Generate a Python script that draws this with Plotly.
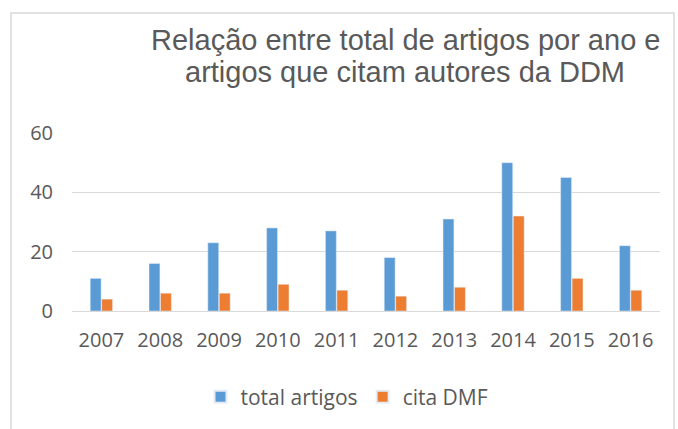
import plotly.graph_objects as go

years = ["2007", "2008", "2009", "2010", "2011", "2012", "2013", "2014", "2015", "2016"]
total_artigos = [11, 16, 23, 28, 27, 18, 31, 50, 45, 22]
cita_dmf = [4, 6, 6, 9, 7, 5, 8, 32, 11, 7]
y_ticks = [0, 20, 40, 60]

title_lines = ["Relação entre total de artigos por ano e", "artigos que citam autores da DDM"]

fig = go.Figure()
fig.add_trace(go.Bar(x=years, y=total_artigos, name="total artigos", marker_color="#5B9BD5"))
fig.add_trace(go.Bar(x=years, y=cita_dmf, name="cita DMF", marker_color="#ED7D31"))

L, R, T, B = 72, 18, 133, 118
W, H = 678, 429
pw, ph = W - L - R, H - T - B

title_font = dict(family="Liberation Sans, Arial", size=29, color="#595959")
annotations = []
for line, yc in zip(title_lines, [40, 72]):
    annotations.append(dict(text=line, xref="paper", yref="paper",
                            x=(405 - L) / pw, y=(H - B - yc) / ph,
                            xanchor="center", yanchor="middle", showarrow=False,
                            font=title_font))

fig.update_layout(
    width=W, height=H,
    margin=dict(l=L, r=R, t=T, b=B, autoexpand=False),
    paper_bgcolor="white", plot_bgcolor="white",
    barmode="group", bargap=0.61, bargroupgap=0.05,
    font=dict(family="Open Sans", size=20, color="#595959"),
    legend=dict(orientation="h", x=(347 - L) / pw, xanchor="center",
                y=(H - B - 397) / ph, yanchor="middle",
                font=dict(family="Open Sans", size=21, color="#595959"),
                itemsizing="constant", tracegroupgap=0, itemwidth=30),
    xaxis=dict(showgrid=False, showline=False, ticks="", ticklabelstandoff=15,
               tickfont=dict(size=20, color="#595959"), automargin=False),
    yaxis=dict(range=[0, 60], tickvals=y_ticks, showgrid=True, gridcolor="#D9D9D9",
               gridwidth=1, zeroline=True, zerolinecolor="#D9D9D9", zerolinewidth=1,
               showline=False, ticks="", ticklabelstandoff=18,
               tickfont=dict(size=20, color="#595959"), automargin=False),
    annotations=annotations,
    shapes=[dict(type="rect", xref="paper", yref="paper",
                 x0=(11 - L) / pw, x1=(674 - L) / pw,
                 y0=(H - B - 440) / ph, y1=(H - B - 13) / ph,
                 line=dict(color="#D9D9D9", width=1.5), fillcolor="rgba(0,0,0,0)",
                 layer="below")],
)

fig.write_html("out.html", config={"displayModeBar": False},
               post_script="document.body.style.margin='0';document.body.style.overflow='hidden';")
